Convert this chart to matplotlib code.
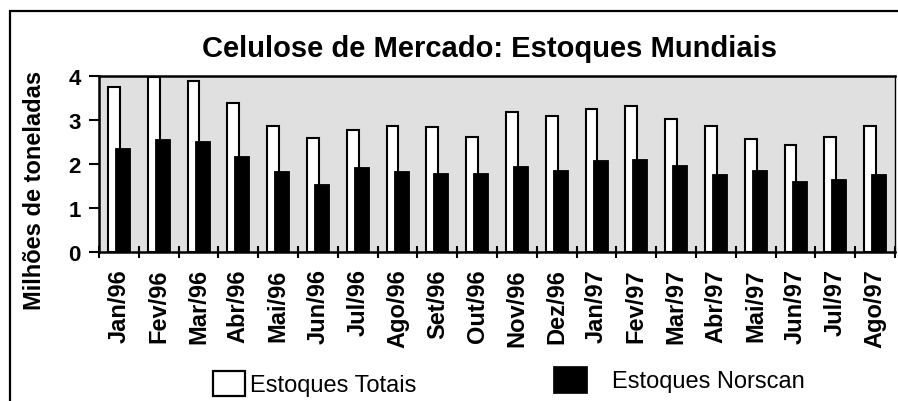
import matplotlib
matplotlib.use("Agg")
import matplotlib.pyplot as plt
import matplotlib.patches as mpatches
import numpy as np

plt.rcParams['font.family'] = ['Liberation Sans', 'DejaVu Sans']

months = ["Jan/96", "Fev/96", "Mar/96", "Abr/96", "Mai/96", "Jun/96", "Jul/96",
          "Ago/96", "Set/96", "Out/96", "Nov/96", "Dez/96", "Jan/97", "Fev/97",
          "Mar/97", "Abr/97", "Mai/97", "Jun/97", "Jul/97", "Ago/97"]
estoques_totais = [3.75, 3.98, 3.89, 3.39, 2.87, 2.59, 2.77, 2.87, 2.84, 2.61,
                   3.18, 3.09, 3.26, 3.32, 3.01, 2.87, 2.56, 2.44, 2.61, 2.87]
estoques_norscan = [2.36, 2.57, 2.52, 2.19, 1.83, 1.55, 1.92, 1.83, 1.79, 1.80,
                    1.96, 1.86, 2.08, 2.12, 1.98, 1.78, 1.86, 1.61, 1.65, 1.76]
y_ticks = [0, 1, 2, 3, 4]

W, H = 898, 402
fig = plt.figure(figsize=(W / 100, H / 100), dpi=100)

def fx(px):
    return px / W

def fy(py):
    return 1 - py / H

ax = fig.add_axes([fx(99), fy(252.7), fx(895) - fx(99), fy(77) - fy(252.7)])
ax.set_facecolor('#E0E0E0')

x = np.arange(len(months))
ax.bar(x - 0.125, estoques_totais, width=0.30, color='white', edgecolor='black',
       linewidth=1.5, zorder=2)
ax.bar(x + 0.09, estoques_norscan, width=0.38, color='black', edgecolor='black',
       linewidth=0.6, zorder=3)

ax.set_xlim(-0.5, len(months) - 0.5)
ax.set_ylim(0, 4)

ax.set_xticks(np.arange(len(months) + 1) - 0.5)
ax.set_xticklabels([])
ax.set_xticks(x, minor=True)
ax.set_xticklabels(months, minor=True, rotation=90, fontsize=17, fontweight='bold',
                   va='top', ha='center')
ax.tick_params(axis='x', which='major', direction='inout', length=9, width=1.5)
ax.tick_params(axis='x', which='minor', length=0, pad=12)

ax.set_yticks(y_ticks)
ax.set_yticklabels([str(v) for v in y_ticks], fontsize=16, fontweight='bold')
ax.tick_params(axis='y', direction='out', length=7, width=1.5, pad=6)

for s in ax.spines.values():
    s.set_linewidth(1.8)
    s.set_color('black')
ax.spines['right'].set_linewidth(1.0)

# Title and y label
fig.text(fx(489), fy(57), "Celulose de Mercado: Estoques Mundiais", fontsize=21,
         fontweight='bold', ha='center', va='baseline')
fig.text(fx(35), fy(190), "Milhões de toneladas", fontsize=17, fontweight='bold',
         rotation=90, ha='center', va='center')

# Legend (drawn manually)
fig.patches.append(mpatches.Rectangle((fx(213), fy(397)), fx(245) - fx(213),
                                      fy(372) - fy(397), facecolor='white',
                                      edgecolor='black', linewidth=1.6,
                                      transform=fig.transFigure))
fig.text(fx(250), fy(392), "Estoques Totais", fontsize=17, ha='left', va='baseline')
fig.patches.append(mpatches.Rectangle((fx(553), fy(394)), fx(587) - fx(553),
                                      fy(367) - fy(394), facecolor='black',
                                      edgecolor='black', linewidth=0.5,
                                      transform=fig.transFigure))
fig.text(fx(612), fy(388), "Estoques Norscan", fontsize=17, ha='left', va='baseline')

# Outer frame (extends past the right and bottom edges)
fig.patches.append(mpatches.Rectangle((fx(10), -0.1), 1.2, fy(12) + 0.1,
                                      fill=False, edgecolor='black', linewidth=1.6,
                                      transform=fig.transFigure, clip_on=False))

fig.savefig("out.png", dpi=100)
